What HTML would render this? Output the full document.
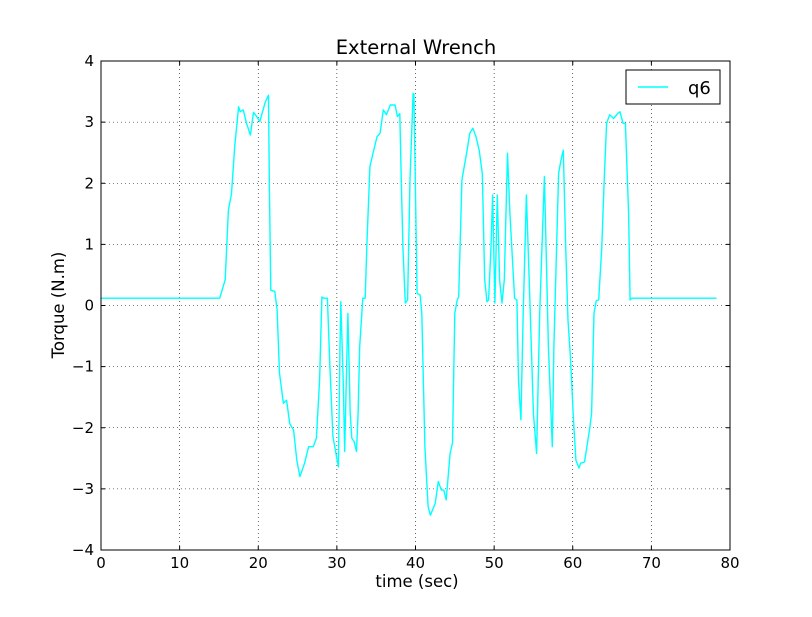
<!DOCTYPE html>
<html><head><meta charset="utf-8"><style>
body{margin:0;background:#fff}
svg text{font-family:"DejaVu Sans","Liberation Sans",sans-serif;fill:#000}
</style></head><body>
<svg id="chart" width="812" height="612" viewBox="0 0 812 612" xmlns="http://www.w3.org/2000/svg">
<rect width="812" height="612" fill="#fff"/>
<g id="grid"></g>
<polyline id="series" fill="none" stroke="#00ffff" stroke-width="1.4" stroke-linejoin="round"/>
<rect x="101" y="61" width="629" height="489" fill="none" stroke="#000" stroke-width="1"/>
<g id="ticks"></g>
<text x="416" y="54" font-size="19.5" text-anchor="middle">External Wrench</text>
<text x="417" y="587" font-size="16.5" text-anchor="middle">time (sec)</text>
<text x="64" y="305" font-size="16.5" text-anchor="middle" transform="rotate(-90 64 305)">Torque (N.m)</text>
<g>
<rect x="626" y="70" width="94" height="34" fill="#fff" stroke="#000" stroke-width="1"/>
<line x1="638" y1="87" x2="668" y2="87" stroke="#00ffff" stroke-width="1.4"/>
<text x="688" y="94" font-size="18">q6</text>
</g>
</svg>
<script>
const xTicks=[0,10,20,30,40,50,60,70,80];
const yTicks=[-4,-3,-2,-1,0,1,2,3,4];
const yTickLabels=["\u22124","\u22123","\u22122","\u22121","0","1","2","3","4"];
const times=[0,15.1,15.8,16.2,16.6,17.0,17.5,17.7,18.1,18.5,19.0,19.4,19.8,20.2,20.9,21.3,21.4,21.6,22.1,22.4,22.7,23.2,23.6,24.0,24.5,24.9,25.3,25.9,26.4,27.0,27.4,27.8,28.1,28.3,28.8,29.1,29.5,30.2,30.4,30.5,30.8,31.0,31.2,31.4,31.7,31.9,32.2,32.5,32.7,32.9,33.3,33.6,33.8,34.2,34.6,35.1,35.5,35.9,36.3,36.8,37.4,37.7,38.0,38.2,38.4,38.7,39.0,39.3,39.7,39.8,40.2,40.6,40.8,41.2,41.6,41.9,42.5,42.9,43.3,43.6,43.9,44.4,44.7,45.0,45.3,45.5,45.9,46.2,46.5,46.9,47.3,47.7,48.1,48.5,48.8,49.1,49.3,49.6,49.8,50.1,50.4,50.7,51.0,51.3,51.7,52.0,52.6,52.9,53.1,53.4,53.7,54.1,54.6,55.0,55.4,55.8,56.4,56.9,57.4,57.6,58.2,58.5,58.8,59.1,59.4,59.7,60.1,60.4,60.8,61.0,61.5,61.8,62.2,62.4,62.7,63.0,63.3,63.7,64.0,64.3,64.7,65.2,65.7,66.0,66.4,66.7,67.1,67.3,67.5,78.3];
const q6=[0.12,0.12,0.42,1.56,1.83,2.60,3.25,3.17,3.20,2.98,2.79,3.16,3.09,3.01,3.33,3.44,2.05,0.25,0.23,-0.07,-1.11,-1.60,-1.55,-1.93,-2.04,-2.53,-2.80,-2.58,-2.31,-2.31,-2.17,-1.22,0.14,0.12,0.12,-0.95,-2.14,-2.64,-0.67,0.06,-1.22,-2.39,-1.22,-0.13,-1.76,-2.17,-2.23,-2.39,-1.76,-0.67,0.12,0.12,0.96,2.27,2.49,2.76,2.82,3.20,3.12,3.28,3.28,3.09,3.14,2.05,0.96,0.04,0.09,2.05,3.47,3.46,0.20,0.17,-0.13,-2.31,-3.29,-3.43,-3.24,-2.88,-3.02,-3.02,-3.18,-2.42,-2.25,-0.13,0.09,0.14,2.05,2.27,2.49,2.82,2.90,2.76,2.54,2.16,0.42,0.06,0.09,0.96,1.81,0.04,1.81,0.42,0.04,0.42,2.49,1.51,0.12,0.09,-1.22,-1.87,-0.13,1.81,-0.13,-1.76,-2.42,-0.13,2.11,-0.67,-2.31,-0.67,2.16,2.38,2.54,0.96,-0.24,-0.84,-1.87,-2.53,-2.66,-2.58,-2.56,-2.31,-1.98,-1.76,-0.13,0.08,0.09,0.96,2.05,2.98,3.12,3.06,3.14,3.17,2.98,2.98,1.51,0.09,0.12,0.12];
const L=101,R=730,T=61,B=550;
const xs=t=>L+(t-0)/(80-0)*(R-L);
const ys=v=>B-(v+4)/8*(B-T);
const NS="http://www.w3.org/2000/svg";
const grid=document.getElementById('grid'),ticks=document.getElementById('ticks');
function mk(tag,attrs,parent){const e=document.createElementNS(NS,tag);for(const k in attrs)e.setAttribute(k,attrs[k]);parent.appendChild(e);return e;}
xTicks.forEach((t,i)=>{
  const x=xs(t);
  const g=mk('line',{x1:x,y1:T,x2:x,y2:B,stroke:'#000','stroke-width':0.6,'stroke-dasharray':'1,3'},grid);
  
  
  mk('line',{x1:x,y1:B,x2:x,y2:B-4,stroke:'#000'},ticks);
  mk('line',{x1:x,y1:T,x2:x,y2:T+4,stroke:'#000'},ticks);
  const tx=mk('text',{x:x,y:B+18,'font-size':15,'text-anchor':'middle'},ticks);
  tx.textContent=String(t);
  
  
});
yTicks.forEach((v,i)=>{
  const y=ys(v);
  const g=mk('line',{x1:L,y1:y,x2:R,y2:y,stroke:'#000','stroke-width':0.6,'stroke-dasharray':'1,3'},grid);
  
  
  mk('line',{x1:L,y1:y,x2:L+4,y2:y,stroke:'#000'},ticks);
  mk('line',{x1:R,y1:y,x2:R-4,y2:y,stroke:'#000'},ticks);
  const tx=mk('text',{x:L-7,y:y+5,'font-size':15,'text-anchor':'end'},ticks);
  tx.textContent=yTickLabels[i];
  
  
});
document.getElementById('series').setAttribute('points',times.map((t,i)=>xs(t).toFixed(1)+','+ys(q6[i]).toFixed(1)).join(' '));
</script>
</body></html>
